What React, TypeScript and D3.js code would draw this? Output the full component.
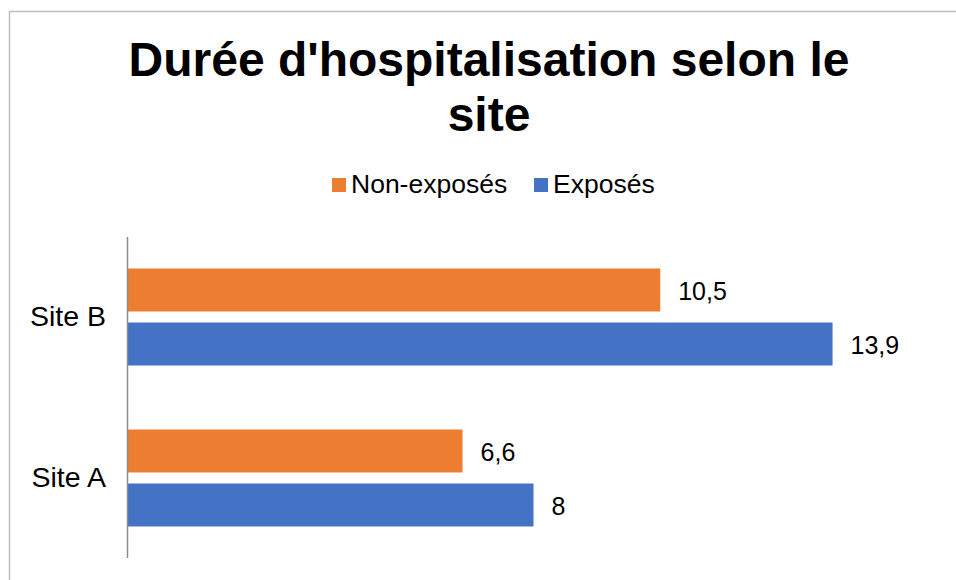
import React from "react";
import * as d3 from "d3";

const categories = ["Site B", "Site A"];
const seriesNames = ["Non-exposés", "Exposés"];
const seriesColors = ["#ED7D31", "#4472C4"];
const nonExposes = [10.5, 6.6];
const exposes = [13.9, 8];
const valueLabels = [["10,5", "6,6"], ["13,9", "8"]];

export default function App() {
  const W = 956, H = 580;
  const left = 128, top = 237, bottom = 558;
  const x = d3.scaleLinear().domain([0, 16]).range([left, left + 811]);
  const y = d3.scaleBand().domain(categories).range([top, bottom]).paddingInner(0.3975).paddingOuter(0.1957);
  const inner = d3.scaleBand().domain(seriesNames).range([0, y.bandwidth()]).paddingInner(0.204);
  const series = [nonExposes, exposes];
  const font = "'Liberation Sans', Arial, sans-serif";
  return (
    <svg width={W} height={H} style={{ position: "absolute", left: 0, top: 0 }} fontFamily={font}>
      <rect x={0} y={0} width={W} height={H} fill="#fff" />
      <path d={`M9.5,${H} V11.5 H${W}`} fill="none" stroke="#BFBFBF" strokeWidth={1.5} />
      <text x={489} y={76} textAnchor="middle" fontSize={48} fontWeight="bold">Durée d'hospitalisation selon le</text>
      <text x={489} y={131} textAnchor="middle" fontSize={48} fontWeight="bold">site</text>
      {seriesNames.map((s, i) => {
        const lx = [332, 534][i];
        return (
          <g key={s}>
            <rect x={lx} y={178} width={14} height={14} fill={seriesColors[i]} />
            <text x={lx + 19} y={193} fontSize={26.5}>{s}</text>
          </g>
        );
      })}
      {categories.map((c, ci) => (
        <g key={c}>
          <text x={106} y={(y(c) as number) + y.bandwidth() / 2 + 9} textAnchor="end" fontSize={28.5}>{c}</text>
          {series.map((vals, si) => {
            const by = (y(c) as number) + (inner(seriesNames[si]) as number);
            return (
              <g key={si}>
                <rect x={x(0)} y={by} width={x(vals[ci]) - x(0)} height={inner.bandwidth()} fill={seriesColors[si]} />
                <text x={x(vals[ci]) + 18} y={by + inner.bandwidth() / 2 + 10} fontSize={25}>{valueLabels[si][ci]}</text>
              </g>
            );
          })}
        </g>
      ))}
      <line x1={x(0) - 0.5} x2={x(0) - 0.5} y1={top} y2={bottom} stroke="#8C8C8C" strokeWidth={1.5} />
    </svg>
  );
}
